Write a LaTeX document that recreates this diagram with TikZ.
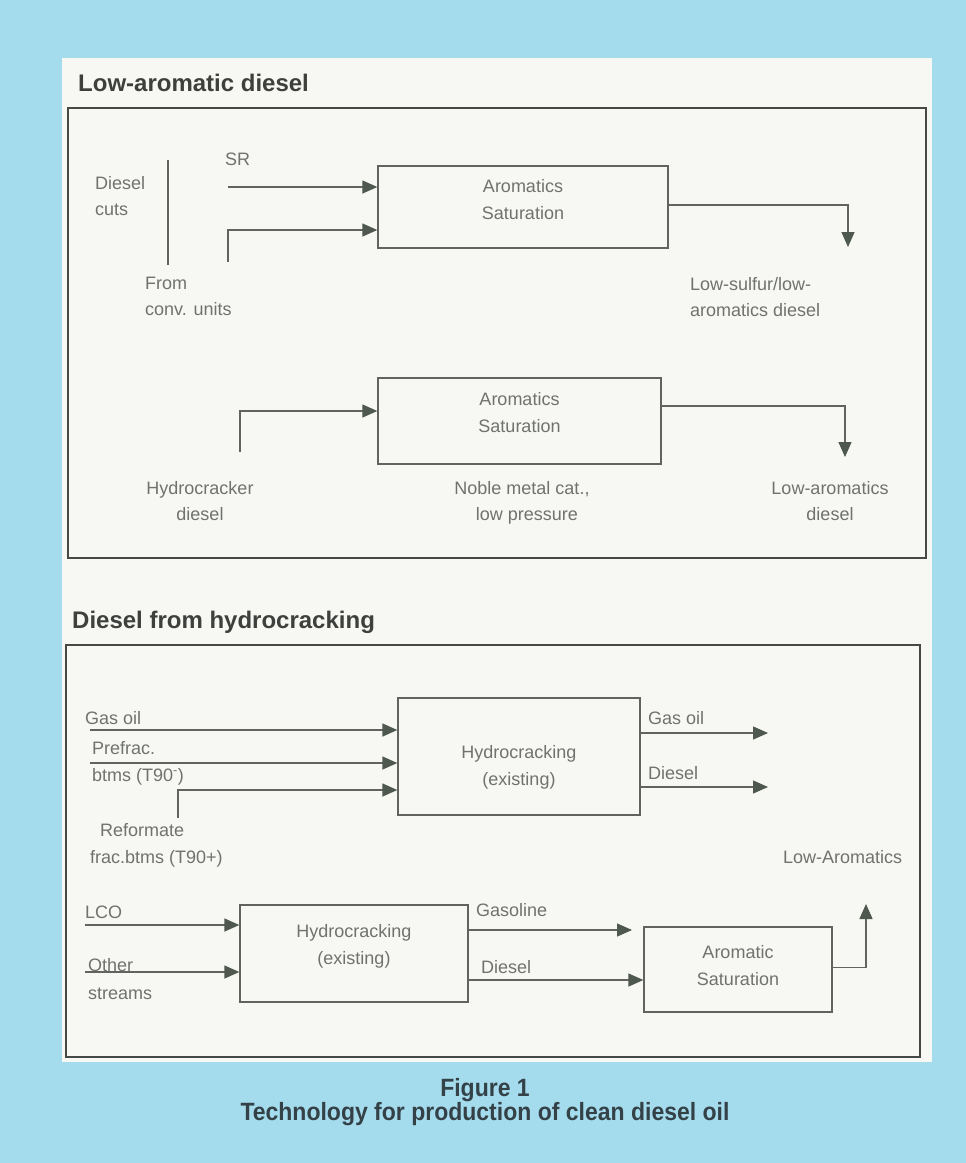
\documentclass[tikz,border=0pt]{standalone}
\usepackage{fontspec}
\setmainfont{Liberation Sans}
\newfontfamily\capfont[FakeStretch=0.92]{Liberation Sans}
\usetikzlibrary{arrows.meta}
\definecolor{bgblue}{RGB}{164,220,238}
\definecolor{paper}{RGB}{247,248,244}
\definecolor{linec}{RGB}{96,99,96}
\definecolor{framec}{RGB}{70,72,70}
\definecolor{arrowc}{RGB}{78,88,78}
\definecolor{txtc}{RGB}{112,114,112}
\definecolor{titlec}{RGB}{62,64,62}
\definecolor{capc}{RGB}{52,66,72}
\begin{document}
\begin{tikzpicture}[x=1pt,y=-1pt,
  lbl/.style={inner sep=0pt, text=txtc, font=\fontsize{18}{26}\selectfont},
  boxtxt/.style={inner sep=0pt, text=txtc, font=\fontsize{18}{27}\selectfont, align=center},
  procbox/.style={draw=linec, line width=1.3pt, inner sep=0pt},
  flow/.style={draw=linec, line width=1.3pt, -{Triangle[length=15pt,width=13pt,color=arrowc]}},
  pipe/.style={draw=linec, line width=1.3pt},
  frame/.style={draw=framec, line width=2pt},
  ttl/.style={inner sep=0pt, anchor=base west, text=titlec, font=\fontsize{24}{28}\selectfont\bfseries}]

\useasboundingbox (0,0) rectangle (966,1163);
\fill[bgblue] (0,0) rectangle (966,1163);
\fill[paper] (62,58) rectangle (932,1062);

% ---------------- Low-aromatic diesel ----------------
\node[ttl] (t1) at (78,91) {Low-aromatic diesel};
\draw[frame] (68,108) rectangle (926,558);

\node[procbox, minimum width=290, minimum height=82,
  label={[boxtxt, yshift=7pt, name=b1t]center:{Aromatics\\Saturation}}] (b1) at (523,207) {};
\node[procbox, minimum width=283, minimum height=86,
  label={[boxtxt, yshift=8pt, name=b2t]center:{Aromatics\\Saturation}}] (b2) at (519.5,421) {};

\node[lbl, anchor=north west, align=left] (dc) at (95,176) {Diesel\\cuts};
\draw[pipe] (168,160) -- (168,265);
\node[lbl, anchor=north west] (sr) at (225,153) {SR};
\node[lbl, anchor=north west, align=left] (fc) at (145,277) {From\\conv. units};
\node[lbl, anchor=north west, align=left] (ls) at (690,277) {Low-sulfur/low-\\aromatics diesel};

\coordinate (srA) at (228,187);
\draw[flow] (srA) -- (srA -| b1.west);
\coordinate (cvA) at (228,262);
\coordinate (cvB) at (228,230);
\draw[flow] (cvA) -- (cvB) -- (cvB -| b1.west);
\coordinate (o1) at (848,247);
\draw[flow] ([yshift=2pt]b1.east) -| (o1);

\coordinate (hcA) at (240,452);
\coordinate (hcB) at (240,411);
\draw[flow] (hcA) -- (hcB) -- (hcB -| b2.west);
\coordinate (o2) at (845,457);
\draw[flow] ([yshift=15pt]b2.east) -| (o2);

\node[lbl, anchor=north, align=center] (hd) at (200,481) {Hydrocracker\\diesel};
\node[lbl, anchor=north, align=center] (nm) at (522,481) {Noble metal cat.,\\\hspace*{10pt}low pressure};
\node[lbl, anchor=north, align=center] (lad) at (830,481) {Low-aromatics\\diesel};

% ---------------- Diesel from hydrocracking ----------------
\node[ttl] (t2) at (72,628) {Diesel from hydrocracking};
\draw[frame] (66,645) rectangle (920,1057);

\node[procbox, minimum width=242, minimum height=117,
  label={[boxtxt, yshift=-11pt, name=b3t]center:{Hydrocracking\\(existing)}}] (b3) at (519,756.5) {};
\node[procbox, minimum width=228, minimum height=97,
  label={[boxtxt, yshift=7pt, name=b4t]center:{Hydrocracking\\(existing)}}] (b4) at (354,953.5) {};
\node[procbox, minimum width=188, minimum height=85,
  label={[boxtxt, yshift=4pt, name=b5t]center:{Aromatic\\Saturation}}] (b5) at (738,969.5) {};

\node[lbl, anchor=north west] (gi) at (85,711) {Gas oil};
\node[lbl, anchor=north west, align=left, font=\fontsize{18}{27}\selectfont] (pf) at (92,741) {Prefrac.\\btms (T90\textsuperscript{-})};
\node[lbl, anchor=north west, align=left, font=\fontsize{18}{27}\selectfont] (rf) at (90,823) {\hspace*{10pt}Reformate\\frac.btms (T90+)};
\node[lbl, anchor=north west] (go) at (648,711) {Gas oil};
\node[lbl, anchor=north west] (dz) at (648,766) {Diesel};
\node[lbl, anchor=north west] (la) at (783,850) {Low-Aromatics};

\coordinate (goA) at (90,730);
\draw[flow] (goA) -- (goA -| b3.west);
\coordinate (pfA) at (90,763);
\draw[flow] (pfA) -- (pfA -| b3.west);
\coordinate (rfA) at (178,818);
\coordinate (rfB) at (178,790);
\draw[flow] (rfA) -- (rfB) -- (rfB -| b3.west);
\coordinate (goOut) at (768,733);
\draw[flow] (goOut -| b3.east) -- (goOut);
\coordinate (dzOut) at (768,787);
\draw[flow] (dzOut -| b3.east) -- (dzOut);

\node[lbl, anchor=north west] (lco) at (85,906) {LCO};
\node[lbl, anchor=north west, align=left, font=\fontsize{18}{28}\selectfont] (os) at (88,958) {Other\\streams};
\node[lbl, anchor=north west] (gs) at (476,903) {Gasoline};
\node[lbl, anchor=north west] (d2) at (481,960) {Diesel};

\coordinate (lcoA) at (85,925);
\draw[flow] (lcoA) -- (lcoA -| b4.west);
\coordinate (osA) at (85,972);
\draw[flow] (osA) -- (osA -| b4.west);
\coordinate (gsOut) at (632,930);
\draw[flow] (gsOut -| b4.east) -- (gsOut);
\coordinate (d2A) at (468,980);
\draw[flow] (d2A -| b4.east) -- (d2A -| b5.west);
\coordinate (laTop) at (866,904);
\draw[flow] ([yshift=2pt]b5.east) -| (laTop);

% ---------------- caption ----------------
\node[inner sep=0pt, text=capc, align=center, font=\capfont\bfseries\fontsize{25}{24}\selectfont] (cap) at (485,1102) {Figure 1\\Technology for production of clean diesel oil};
\end{tikzpicture}
\end{document}
